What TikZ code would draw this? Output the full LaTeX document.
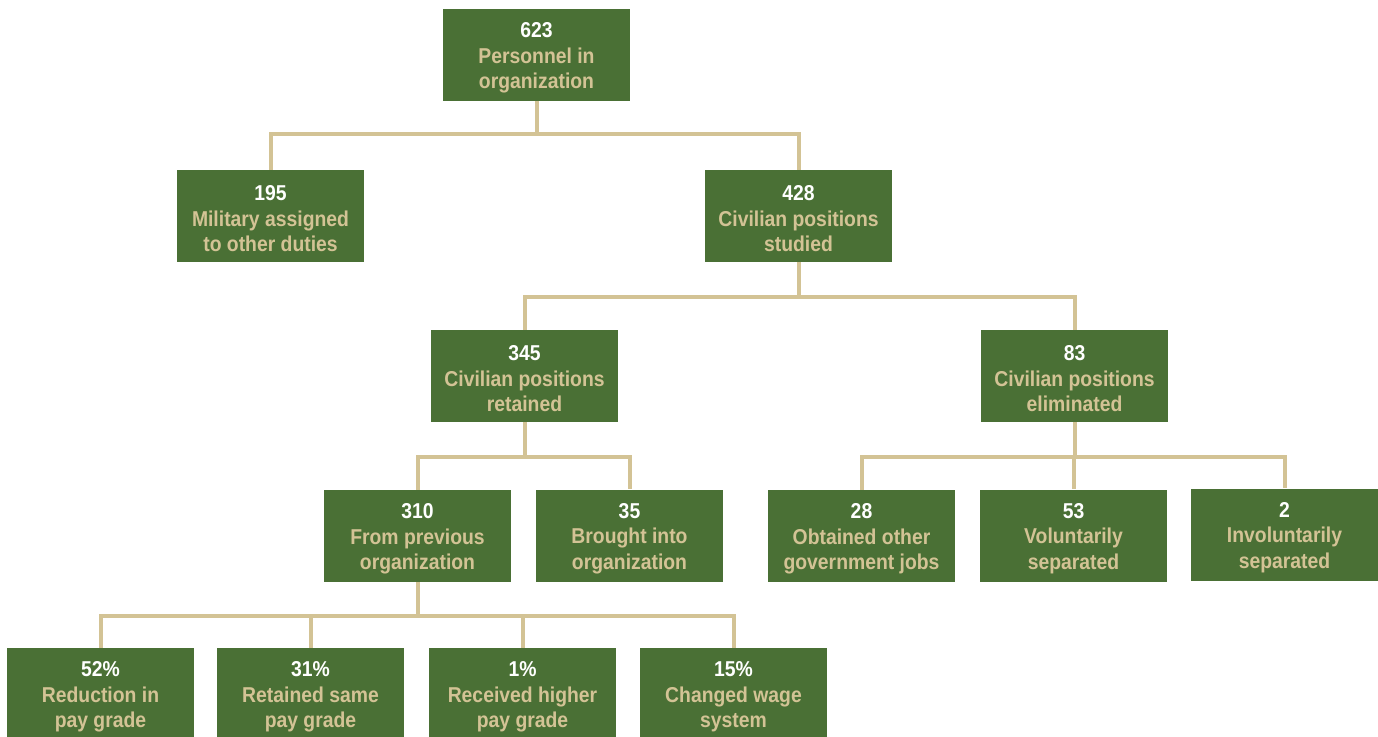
\documentclass[tikz,border=0pt]{standalone}
\usepackage{fontspec}
\setmainfont[FakeStretch=0.9]{Liberation Sans}
\definecolor{boxgreen}{HTML}{4A7035}
\definecolor{beige}{HTML}{D3C395}
\begin{document}
\begin{tikzpicture}[x=1pt,y=-1pt,
  box/.style={fill=boxgreen, draw=none, minimum width=187pt, minimum height=92pt, inner sep=0pt,
    align=center, text=beige, font=\bfseries\fontsize{21.5}{25.5}\selectfont},
  conn/.style={draw=beige, line width=4pt}]
\useasboundingbox (0,0) rectangle (1378,736);
\newcommand{\num}[1]{\rule{0pt}{21pt}\textcolor{white}{#1}}
\node[box] (top) at (536.5,55) {\num{623}\\Personnel in\\organization};
\node[box] (mil) at (270.5,216) {\num{195}\\Military assigned\\to other duties};
\node[box] (civ) at (798.5,216) {\num{428}\\Civilian positions\\studied};
\node[box] (ret) at (524.5,376) {\num{345}\\Civilian positions\\retained};
\node[box] (eli) at (1074.5,376) {\num{83}\\Civilian positions\\eliminated};
\node[box] (prev) at (417.5,536) {\num{310}\\From previous\\organization};
\node[box] (brou) at (629.5,535.5) {\num{35}\\Brought into\\organization};
\node[box] (gov) at (861.5,536) {\num{28}\\Obtained other\\government jobs};
\node[box] (vol) at (1073.5,535.5) {\num{53}\\Voluntarily\\separated};
\node[box] (inv) at (1284.5,534.5) {\num{2}\\Involuntarily\\separated};
\node[box] (red) at (100.5,694) {\num{52\%}\\Reduction in\\pay grade};
\node[box] (same) at (310.5,694) {\num{31\%}\\Retained same\\pay grade};
\node[box] (high) at (522.5,694) {\num{1\%}\\Received higher\\pay grade};
\node[box] (wage) at (733.5,694) {\num{15\%}\\Changed wage\\system};
% connectors
\draw[conn] (top.south) -- ++(0,33) -| (mil.north);
\draw[conn] (top.south) -- ++(0,33) -| (civ.north);
\draw[conn] (civ.south) -- ++(0,35) -| (ret.north);
\draw[conn] (civ.south) -- ++(0,35) -| (eli.north);
\draw[conn] (ret.south) -- ++(0,35) -| (prev.north);
\draw[conn] (ret.south) -- ++(0,35) -| (brou.north);
\draw[conn] (eli.south) -- ++(0,35) -| (gov.north);
\draw[conn] (eli.south) -- ++(0,35) -| (vol.north);
\draw[conn] (eli.south) -- ++(0,35) -| (inv.north);
\draw[conn] (prev.south) -- ++(0,34) -| (red.north);
\draw[conn] (prev.south) -- ++(0,34) -| (same.north);
\draw[conn] (prev.south) -- ++(0,34) -| (high.north);
\draw[conn] (prev.south) -- ++(0,34) -| (wage.north);
\end{tikzpicture}
\end{document}
